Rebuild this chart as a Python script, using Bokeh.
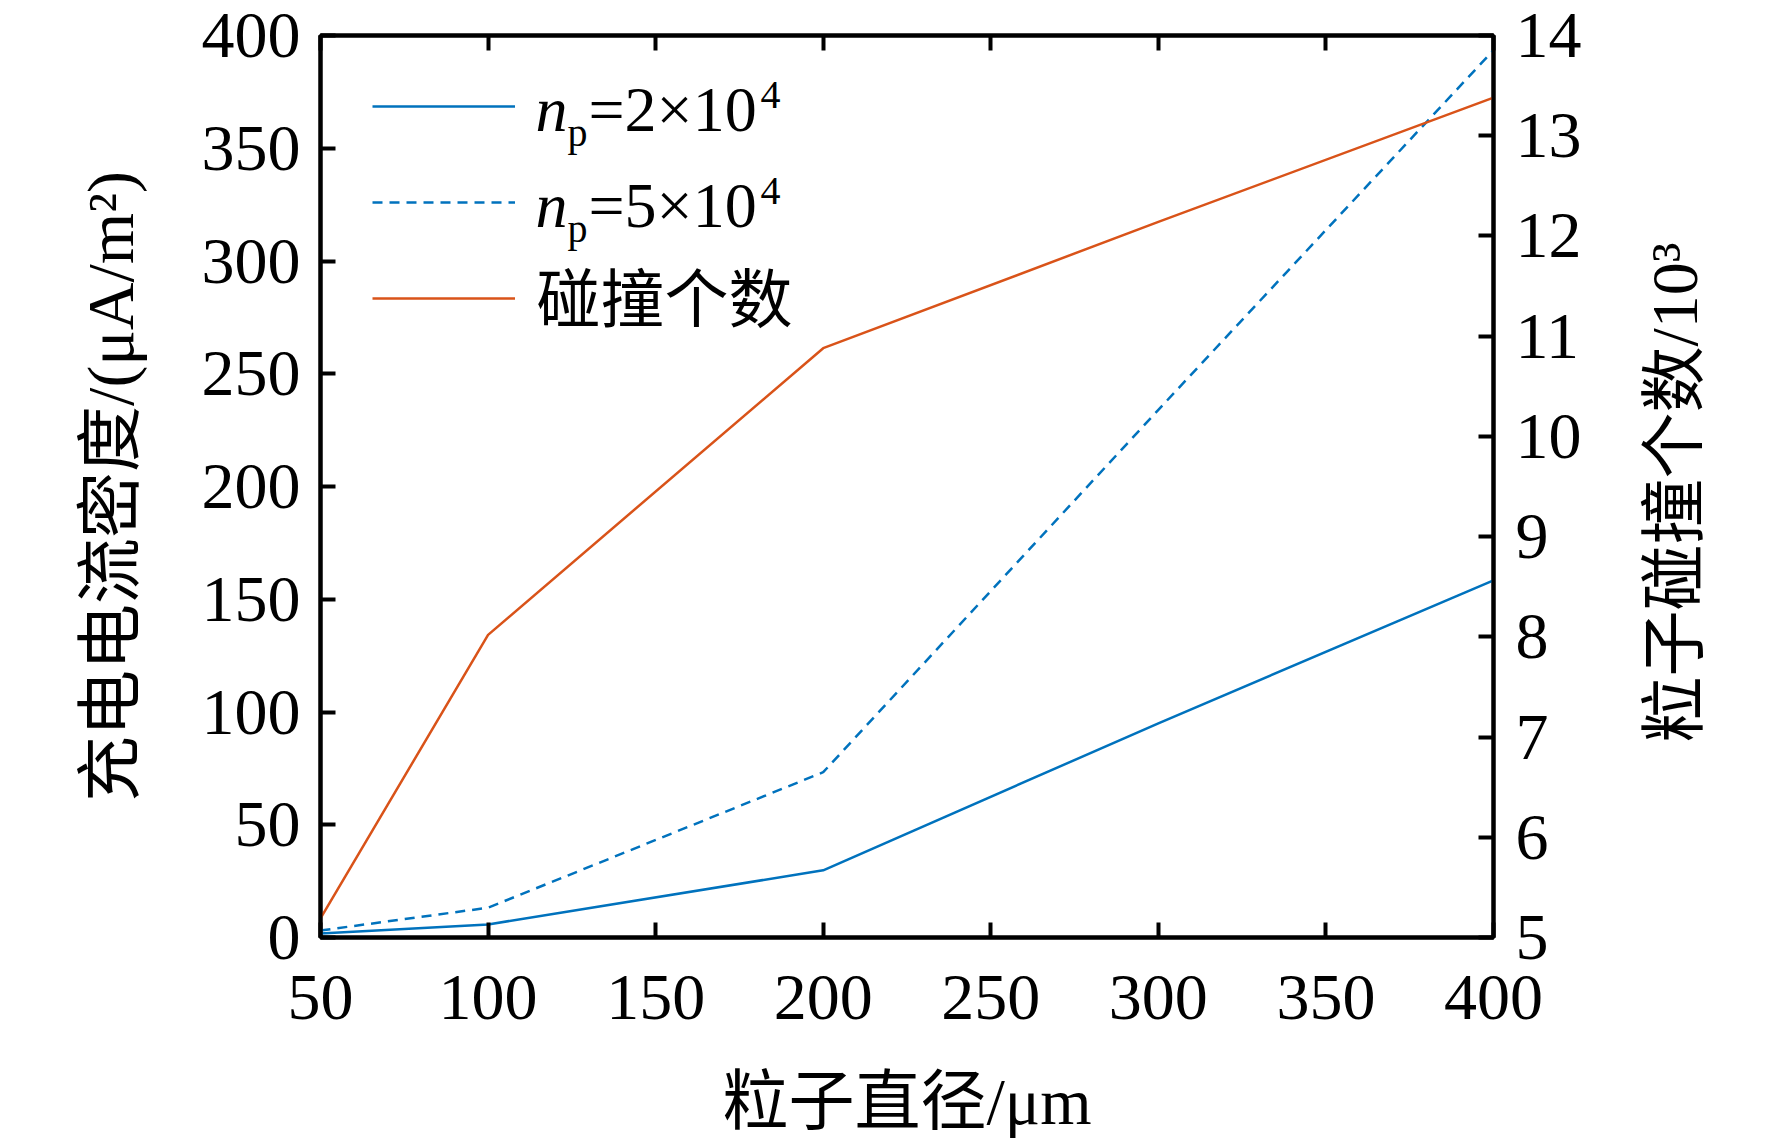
from bokeh.plotting import figure
from bokeh.layouts import row
from bokeh.models import Range1d, LinearAxis, FixedTicker, Legend, LegendItem, Label
from bokeh.embed import file_html
from bokeh.resources import INLINE
import math

# ---- data ----
diameter_um = [50, 100, 200, 300, 400]
current_np2e4 = [1.8, 5.8, 29.8, 95.0, 158.4]      # uA/m^2
current_np5e4 = [3.1, 13.2, 73.3, 234.0, 393.5]    # uA/m^2
collisions_1e3 = [5.19, 8.02, 10.88, 12.14, 13.38] # x10^3

x_ticks = [50, 100, 150, 200, 250, 300, 350, 400]
y_left_ticks = [0, 50, 100, 150, 200, 250, 300, 350, 400]
y_right_ticks = [5, 6, 7, 8, 9, 10, 11, 12, 13, 14]

x_label = "粒子直径/μm"
y_left_label = "充电电流密度/(μA/m²)"
y_right_label = "粒子碰撞个数/10³"
legend_collision = "碰撞个数"

BLUE = "#0072BD"
ORANGE = "#D95319"
SERIF = "Liberation Serif, Noto Sans CJK SC"
FS = "66px"
LFS = "64px"

p = figure(width=1600, height=1144, output_backend="svg", toolbar_location=None,
           x_range=Range1d(50, 400), y_range=Range1d(0, 400),
           min_border_left=320, min_border_right=107, min_border_top=35, min_border_bottom=207)
p.extra_y_ranges = {"right": Range1d(5, 14)}
p.grid.visible = False
p.background_fill_color = "white"
p.border_fill_color = "white"
p.outline_line_color = "black"
p.outline_line_width = 4


def style_axis(ax, ticks, standoff):
    ax.ticker = FixedTicker(ticks=ticks)
    ax.minor_tick_line_color = None
    ax.major_tick_in = 15
    ax.major_tick_out = 0
    ax.major_tick_line_width = 4
    ax.major_tick_line_color = "black"
    ax.axis_line_width = 4
    ax.axis_line_color = "black"
    ax.major_label_text_font = SERIF
    ax.major_label_text_font_size = FS
    ax.major_label_text_color = "black"
    ax.major_label_standoff = standoff
    ax.axis_label_text_font = SERIF
    ax.axis_label_text_font_size = FS
    ax.axis_label_text_font_style = "normal"
    ax.axis_label_text_color = "black"


xa = p.xaxis[0]
style_axis(xa, x_ticks, 38)
xa.axis_label = x_label
xa.axis_label_standoff = 43

ya = p.yaxis[0]
style_axis(ya, y_left_ticks, 20)
ya.axis_label = y_left_label
ya.axis_label_standoff = 52

ra = LinearAxis(y_range_name="right")
style_axis(ra, y_right_ticks, 22)
p.add_layout(ra, "right")

ta = LinearAxis()
ta.ticker = FixedTicker(ticks=x_ticks)
ta.minor_tick_line_color = None
ta.major_tick_in = 15
ta.major_tick_out = 0
ta.major_tick_line_width = 4
ta.axis_line_width = 4
ta.major_label_text_alpha = 0
ta.major_label_text_font_size = "1px"
ta.major_label_standoff = 0
p.add_layout(ta, "above")

r1 = p.line(diameter_um, current_np2e4, line_color=BLUE, line_width=2.5)
r2 = p.line(diameter_um, current_np5e4, line_color=BLUE, line_width=2.5, line_dash="10 7")
r3 = p.line(diameter_um, collisions_1e3, line_color=ORANGE, line_width=2.5, y_range_name="right")

legend = Legend(items=[LegendItem(label=" ", renderers=[r1]),
                       LegendItem(label=" ", renderers=[r2]),
                       LegendItem(label=" ", renderers=[r3])],
                location=(52, 591), orientation="vertical",
                glyph_width=143, glyph_height=96, label_height=96, label_width=0,
                padding=0, spacing=0, margin=0, label_standoff=0,
                label_text_font_size="1px",
                border_line_color=None, background_fill_alpha=0)
p.add_layout(legend, "center")


def lab(fig, txt, x, y, size, style="normal", baseline="alphabetic", angle=0.0, align="left"):
    fig.add_layout(Label(x=x, y=y, x_units="screen", y_units="screen", text=txt,
                         text_font=SERIF, text_font_size=size, text_font_style=style,
                         text_color="black", text_baseline=baseline, text_align=align,
                         angle=angle))


for base, val in ((828, "=2×10"), (732, "=5×10")):
    lab(p, "n", 215, base, LFS, style="italic")
    lab(p, "p", 247, base - 23, "40px")
    lab(p, val, 268, base, LFS)
    lab(p, "4", 440, base + 15, "40px")
lab(p, legend_collision, 216, 637, LFS, baseline="middle")

# narrow side panel holding the right-hand axis title (reads bottom to top)
side = figure(width=156, height=1144, output_backend="svg", toolbar_location=None,
              x_range=Range1d(0, 1), y_range=Range1d(0, 1),
              x_axis_type=None, y_axis_type=None, min_border=0)
side.outline_line_color = None
side.grid.visible = False
side.background_fill_color = "white"
side.border_fill_color = "white"
lab(side, y_right_label, 74, 445, FS, baseline="middle", angle=math.pi / 2, align="center")

layout = row(p, side, spacing=0)
open("out.html", "w").write(file_html(layout, INLINE))
